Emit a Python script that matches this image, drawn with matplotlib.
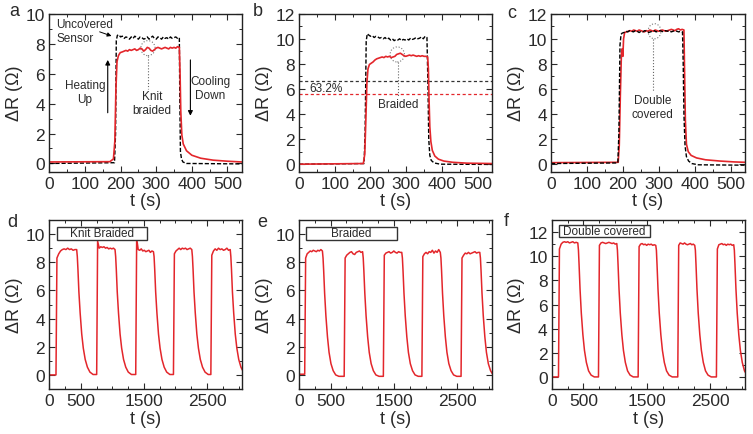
import numpy as np
import matplotlib
matplotlib.use("Agg")
import matplotlib.pyplot as plt
from matplotlib.patches import Ellipse, Rectangle
from matplotlib.ticker import MultipleLocator, FixedLocator

plt.rcParams['font.family'] = ['Liberation Sans', 'DejaVu Sans']

RED = '#e3262b'
TXT = '#2a2a2a'

# ---- single cycle, top row (t in s, dR in ohm) ----
# panel a: uncovered sensor (black) and knit braided (red)
a_black_pre_t = [0, 183, 186, 188, 191]
a_black_pre_v = [0.0, 0.05, 2.0, 8.2, 8.55]
a_black_plateau = [8.6, 8.45, 8.5, 8.35, 8.45, 8.4, 8.3, 8.45, 8.35, 8.5, 8.4, 8.3,
                   8.45, 8.4, 8.3, 8.35, 8.45, 8.3, 8.4, 8.5, 8.35, 8.3, 8.45, 8.4,
                   8.3, 8.45, 8.35, 8.4, 8.3, 8.45, 8.35, 8.4, 8.45, 8.35, 8.4]
a_black_plateau_span = (195, 365)
a_black_post_t = [366, 368, 371, 375, 385, 540]
a_black_post_v = [5.0, 0.8, 0.3, 0.1, 0.0, -0.03]

a_red_pre_t = [0, 170, 180, 184, 187, 190, 194, 199]
a_red_pre_v = [0.1, 0.12, 0.3, 1.5, 5.0, 6.8, 7.2, 7.4]
a_red_plateau = [7.45, 7.5, 7.55, 7.5, 7.6, 7.55, 7.6, 7.65, 7.55, 7.6, 7.7, 7.65,
                 7.5, 7.6, 7.75, 7.7, 7.55, 7.5, 7.6, 7.7, 7.75, 7.7, 7.65, 7.7,
                 7.75, 7.7, 7.65, 7.75, 7.7, 7.75, 7.7, 7.8, 7.75]
a_red_plateau_span = (205, 365)
a_red_post_t = [367, 369, 372, 376, 385, 400, 425, 460, 500, 540]
a_red_post_v = [6.0, 3.5, 1.9, 1.3, 0.85, 0.55, 0.35, 0.22, 0.15, 0.1]

# panel b: uncovered (black) and braided (red)
b_black_pre_t = [0, 182, 185, 188, 191]
b_black_pre_v = [0.0, 0.05, 2.5, 9.8, 10.4]
b_black_plateau = [10.3, 10.2, 10.25, 10.1, 10.2, 10.15, 10.05, 10.1, 10.0, 10.1, 9.95,
                   10.05, 9.9, 10.0, 9.85, 9.95, 9.9, 10.0, 9.85, 9.95, 9.9, 10.0, 9.9,
                   10.05, 9.95, 10.0, 10.1, 10.0, 10.05, 10.15, 10.0, 10.2, 10.1]
b_black_plateau_span = (195, 358)
b_black_post_t = [361, 363, 366, 370, 378, 395, 540]
b_black_post_v = [6.0, 2.0, 0.7, 0.3, 0.1, 0.0, -0.02]

b_red_pre_t = [0, 180, 184, 187, 190, 193, 197]
b_red_pre_v = [0.0, 0.05, 0.8, 3.5, 6.5, 7.6, 7.95]
b_red_plateau = [8.05, 8.15, 8.3, 8.4, 8.45, 8.5, 8.55, 8.5, 8.6, 8.55, 8.6, 8.5, 8.55,
                 8.6, 8.75, 8.8, 8.85, 8.75, 8.65, 8.6, 8.65, 8.7, 8.65, 8.7, 8.65,
                 8.6, 8.65, 8.6, 8.65, 8.6, 8.6, 8.55]
b_red_plateau_span = (202, 360)
b_red_post_t = [362, 364, 366, 369, 373, 380, 390, 405, 430, 470, 540]
b_red_post_v = [7.6, 5.0, 3.0, 1.8, 1.1, 0.65, 0.4, 0.25, 0.15, 0.08, 0.05]

b_black_632 = 6.63
b_red_632 = 5.56

# panel c: uncovered (black) and double covered (red)
c_black_pre_t = [0, 186, 189, 192, 195]
c_black_pre_v = [0.05, 0.1, 2.5, 9.5, 10.35]
c_black_plateau = [10.45, 10.5, 10.6, 10.55, 10.65, 10.6, 10.55, 10.65, 10.6, 10.5, 10.6,
                   10.55, 10.65, 10.6, 10.5, 10.55, 10.6, 10.65, 10.55, 10.6, 10.65, 10.6,
                   10.55, 10.65, 10.6, 10.65, 10.55, 10.6, 10.65, 10.6, 10.55, 10.6, 10.55]
c_black_plateau_span = (198, 366)
c_black_post_t = [368, 370, 373, 377, 383, 392, 410, 540]
c_black_post_v = [8.0, 4.0, 1.5, 0.6, 0.25, 0.05, -0.05, -0.08]

c_red_pre_t = [0, 187, 190, 193, 196, 198, 200, 202, 205]
c_red_pre_v = [0.12, 0.15, 1.5, 5.5, 8.8, 9.2, 8.6, 10.0, 10.5]
c_red_plateau = [10.55, 10.6, 10.65, 10.6, 10.7, 10.65, 10.6, 10.7, 10.65, 10.6, 10.55,
                 10.65, 10.6, 10.7, 10.65, 10.6, 10.7, 10.65, 10.6, 10.65, 10.7, 10.65,
                 10.6, 10.65, 10.7, 10.75, 10.7, 10.65, 10.75, 10.8, 10.7, 10.75, 10.7]
c_red_plateau_span = (210, 370)
c_red_post_t = [372, 374, 377, 382, 390, 405, 430, 470, 510, 540]
c_red_post_v = [7.0, 3.5, 1.6, 1.0, 0.7, 0.5, 0.35, 0.25, 0.18, 0.15]

# ---- cycling, bottom row ----
decay_dt = [0, 10, 20, 35, 55, 80, 105, 135, 170, 210, 260]

d_rise = [106, 751, 1370, 1968, 2561]
d_fall = [434, 1042, 1651, 2259, 2868]
d_base = 0.0
d_plateau = [
    [8.3, 8.6, 8.8, 8.9, 8.95, 8.9, 9.0, 8.9, 8.95, 8.85, 8.9, 8.9],
    [9.5, 9.0, 9.1, 9.05, 9.1, 9.0, 9.05, 8.95, 9.0, 8.95, 9.0, 8.9],
    [9.7, 8.9, 8.85, 8.95, 8.8, 8.85, 8.75, 8.8, 8.85, 8.7, 8.8, 8.75],
    [8.6, 8.8, 8.9, 9.0, 8.9, 9.0, 8.95, 9.0, 8.9, 8.95, 9.0, 8.9],
    [8.5, 8.8, 8.95, 8.85, 9.0, 8.9, 8.95, 8.85, 8.9, 9.0, 8.85, 8.9],
]
d_decay = [8.9, 8.4, 7.5, 5.9, 4.4, 2.9, 1.9, 1.1, 0.55, 0.2, 0.03]

e_rise = [90, 714, 1333, 1942, 2561]
e_fall = [370, 1005, 1624, 2233, 2857]
e_base = 0.05
e_plateau = [
    [8.3, 8.6, 8.7, 8.8, 8.75, 8.85, 8.8, 8.75, 8.85, 8.8, 8.9, 8.8],
    [8.3, 8.5, 8.6, 8.7, 8.75, 8.6, 8.55, 8.7, 8.75, 8.8, 8.7, 8.75],
    [8.5, 8.65, 8.7, 8.75, 8.65, 8.7, 8.8, 8.7, 8.65, 8.75, 8.7, 8.7],
    [8.4, 8.6, 8.7, 8.6, 8.75, 8.7, 8.85, 8.65, 8.8, 8.7, 8.9, 8.7],
    [8.3, 8.5, 8.65, 8.6, 8.7, 8.6, 8.65, 8.7, 8.75, 8.65, 8.7, 8.7],
]
e_decay = [8.8, 8.3, 7.4, 5.8, 4.2, 2.7, 1.6, 0.8, 0.3, 0.0, -0.1]

f_rise = [107, 738, 1364, 1989, 2599]
f_fall = [412, 1027, 1642, 2257, 2872]
f_base = 0.0
f_plateau = [
    [10.6, 11.0, 11.15, 11.2, 11.15, 11.2, 11.1, 11.15, 11.2, 11.1, 11.15, 11.1],
    [10.9, 11.1, 11.15, 11.1, 11.05, 11.1, 11.15, 11.1, 11.05, 11.1, 11.0, 11.05],
    [10.8, 11.0, 11.05, 10.95, 11.0, 10.9, 11.0, 10.95, 11.0, 10.9, 10.95, 10.9],
    [10.9, 11.1, 11.05, 11.0, 11.1, 11.0, 10.95, 11.0, 11.05, 10.95, 11.0, 10.9],
    [10.6, 10.95, 11.0, 11.05, 10.95, 11.0, 10.9, 11.0, 10.95, 11.0, 10.9, 10.95],
]
f_decay = [11.0, 10.5, 9.3, 7.3, 5.3, 3.5, 2.2, 1.2, 0.5, 0.15, 0.0]


def single_trace(pre_t, pre_v, plateau, span, post_t, post_v):
    t = list(pre_t) + list(np.linspace(span[0], span[1], len(plateau))) + list(post_t)
    v = list(pre_v) + list(plateau) + list(post_v)
    return np.array(t), np.array(v)


def cycle_trace(rises, falls, base, plateaus, decay):
    t, v = [0], [base]
    for r, f, p in zip(rises, falls, plateaus):
        t += [r]
        v += [v[-1]]
        t += list(np.linspace(r + 15, f, len(p)))
        v += list(p)
        t += [f + dt for dt in decay_dt[1:]]
        v += decay[1:]
    return np.array(t), np.array(v)


def style_axes(ax):
    ax.tick_params(which='both', direction='in', top=True, right=True,
                   labelsize=12.5, colors=TXT, pad=3)
    ax.tick_params(which='major', length=4, width=0.8)
    ax.tick_params(which='minor', length=2, width=0.7)
    for s in ax.spines.values():
        s.set_linewidth(1.0)
        s.set_color('#222222')
    ax.set_xlabel('t (s)', fontsize=13, color=TXT, labelpad=1)
    ax.set_ylabel('ΔR (Ω)', fontsize=13, color=TXT, labelpad=2)


fig = plt.figure(figsize=(7.53, 4.35), dpi=100)
W, H = 753, 435


def axes_px(x0, x1, y0, y1):
    return fig.add_axes([x0 / W, 1 - y1 / H, (x1 - x0) / W, (y1 - y0) / H])


top_y = (14.7, 172.7)
bot_y = (221, 390)
ax_a = axes_px(49.3, 241.7, *top_y)
ax_b = axes_px(299, 492, *top_y)
ax_c = axes_px(551, 745, *top_y)
ax_d = axes_px(49.3, 241.7, *bot_y)
ax_e = axes_px(299, 492, *bot_y)
ax_f = axes_px(551.7, 745, *bot_y)

dash = (0, (3, 1.4))

# ---- a ----
t, v = single_trace(a_black_pre_t, a_black_pre_v, a_black_plateau, a_black_plateau_span,
                    a_black_post_t, a_black_post_v)
ax_a.plot(t, v, color='k', lw=1.0, ls=dash)
t, v = single_trace(a_red_pre_t, a_red_pre_v, a_red_plateau, a_red_plateau_span,
                    a_red_post_t, a_red_post_v)
ax_a.plot(t, v, color=RED, lw=1.2)
ax_a.set_xlim(0, 540)
ax_a.set_ylim(-0.55, 10)
ax_a.set_yticks([0, 2, 4, 6, 8, 10])
ax_a.text(19, 9.3, 'Uncovered', fontsize=8.5, color=TXT, va='center')
ax_a.text(19, 8.35, 'Sensor', fontsize=8.5, color=TXT, va='center')
ax_a.annotate('', xy=(182, 8.45), xytext=(134, 8.85),
              arrowprops=dict(arrowstyle='-|>', color='k', lw=0.7, mutation_scale=6))
ax_a.text(100, 4.75, 'Heating\nUp', fontsize=8.5, color=TXT, ha='center', va='center',
          linespacing=1.25)
ax_a.annotate('', xy=(164, 7.1), xytext=(164, 3.2),
              arrowprops=dict(arrowstyle='-|>', color='k', lw=0.8, mutation_scale=7))
ax_a.text(452, 5.05, 'Cooling\nDown', fontsize=8.5, color=TXT, ha='center', va='center',
          linespacing=1.25)
ax_a.annotate('', xy=(396, 3.0), xytext=(396, 7.1),
              arrowprops=dict(arrowstyle='-|>', color='k', lw=0.8, mutation_scale=7))
ax_a.add_patch(Ellipse((277, 7.7), 40, 1.0, fill=False, ls=':', ec='#777777', lw=0.8))
ax_a.plot([277, 277], [7.2, 4.95], ls=':', color='#666666', lw=0.8)
ax_a.text(288, 4.05, 'Knit\nbraided', fontsize=8.5, color=TXT, ha='center', va='center',
          linespacing=1.25)

# ---- b ----
ax_b.axhline(b_black_632, color='#333333', lw=0.9, ls=(0, (2.5, 2)))
ax_b.axhline(b_red_632, color=RED, lw=0.9, ls=(0, (2.5, 2)))
t, v = single_trace(b_black_pre_t, b_black_pre_v, b_black_plateau, b_black_plateau_span,
                    b_black_post_t, b_black_post_v)
ax_b.plot(t, v, color='k', lw=1.0, ls=dash)
t, v = single_trace(b_red_pre_t, b_red_pre_v, b_red_plateau, b_red_plateau_span,
                    b_red_post_t, b_red_post_v)
ax_b.plot(t, v, color=RED, lw=1.2)
ax_b.set_xlim(0, 540)
ax_b.set_ylim(-0.6, 12)
ax_b.set_yticks([0, 2, 4, 6, 8, 10, 12])
ax_b.text(28, 6.05, '63.2%', fontsize=8.5, color=TXT, va='center')
ax_b.add_patch(Ellipse((275, 8.75), 40, 1.2, fill=False, ls=':', ec='#777777', lw=0.8))
ax_b.plot([276, 276], [8.15, 5.4], ls=':', color='#666666', lw=0.8)
ax_b.text(278, 4.8, 'Braided', fontsize=8.5, color=TXT, ha='center', va='center')

# ---- c ----
t, v = single_trace(c_red_pre_t, c_red_pre_v, c_red_plateau, c_red_plateau_span,
                    c_red_post_t, c_red_post_v)
ax_c.plot(t, v, color=RED, lw=1.2)
t, v = single_trace(c_black_pre_t, c_black_pre_v, c_black_plateau, c_black_plateau_span,
                    c_black_post_t, c_black_post_v)
ax_c.plot(t, v, color='k', lw=1.0, ls=dash)
ax_c.set_xlim(0, 540)
ax_c.set_ylim(-0.6, 12)
ax_c.set_yticks([0, 2, 4, 6, 8, 10, 12])
ax_c.add_patch(Ellipse((288, 10.6), 36, 1.2, fill=False, ls=':', ec='#777777', lw=0.8))
ax_c.plot([285, 285], [10.0, 5.75], ls=':', color='#666666', lw=0.8)
ax_c.text(283, 4.55, 'Double\ncovered', fontsize=8.5, color=TXT, ha='center', va='center',
          linespacing=1.25)

for ax in (ax_a, ax_b, ax_c):
    ax.set_xticks([0, 100, 200, 300, 400, 500])
    ax.xaxis.set_minor_locator(MultipleLocator(50))
    ax.yaxis.set_minor_locator(MultipleLocator(1))
    style_axes(ax)

# ---- bottom row ----
bottom = [
    (ax_d, d_rise, d_fall, d_base, d_plateau, d_decay, 'Knit Braided', (-1, 11), 10.05, 0.9),
    (ax_e, e_rise, e_fall, e_base, e_plateau, e_decay, 'Braided', (-1, 11), 10.05, 0.9),
    (ax_f, f_rise, f_fall, f_base, f_plateau, f_decay, 'Double covered', (-1, 13), 12.1, 0.95),
]
for ax, rises, falls, base, plats, decay, label, ylim, yc, hh in bottom:
    t, v = cycle_trace(rises, falls, base, plats, decay)
    ax.plot(t, v, color=RED, lw=1.1)
    ax.set_xlim(0, 3050)
    ax.set_ylim(*ylim)
    ax.set_yticks(list(range(0, ylim[1], 2)))
    ax.xaxis.set_major_locator(FixedLocator([0, 500, 1500, 2500]))
    ax.xaxis.set_minor_locator(FixedLocator([250, 750, 1000, 1250, 1750, 2000, 2250, 2750, 3000]))
    ax.yaxis.set_minor_locator(MultipleLocator(1))
    ax.add_patch(Rectangle((116, yc - hh / 2), 1430, hh, fill=True, fc='white',
                           ec='#333333', lw=1.0, zorder=3))
    ax.text(116 + 715, yc, label, fontsize=8.5, color=TXT, ha='center', va='center', zorder=4)
    style_axes(ax)

for letter, x, y in [('a', 14, 12), ('b', 258, 12), ('c', 512, 13),
                     ('d', 12, 223), ('e', 262, 223), ('f', 506, 222)]:
    fig.text(x / W, 1 - y / H, letter, fontsize=13, color=TXT, ha='center', va='center')

fig.savefig('out.png', dpi=100)
